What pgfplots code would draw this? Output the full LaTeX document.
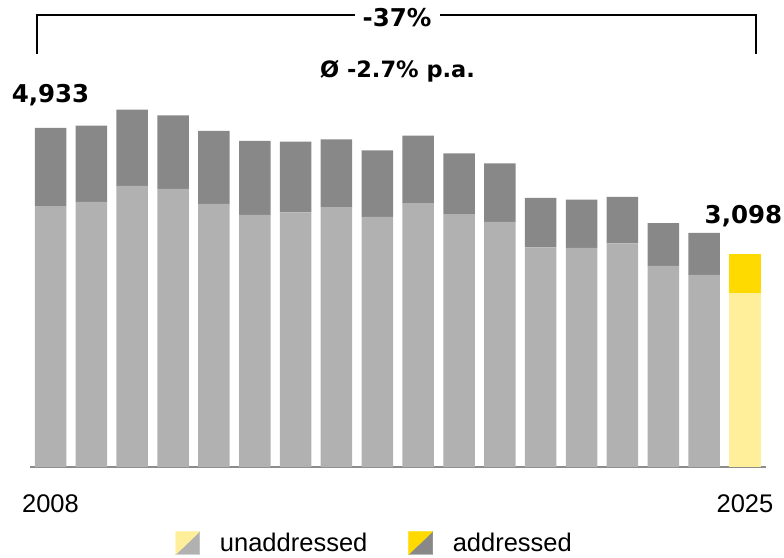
\documentclass[border=0pt]{standalone}
\usepackage{fontspec}
\setmainfont{Liberation Sans}
\newfontfamily\dv{DejaVu Sans}
\usepackage{pgfplots}
\pgfplotsset{compat=1.18}
\definecolor{glight}{HTML}{B1B1B1}
\definecolor{gdark}{HTML}{888888}
\definecolor{ylight}{HTML}{FFEF9A}
\definecolor{ydark}{HTML}{FFDA00}
\definecolor{axgray}{HTML}{8C8C8C}
\begin{document}
\begin{tikzpicture}[x=1pt,y=1pt]
\path[use as bounding box] (0,0) rectangle (784,557);
\begin{axis}[
  at={(30pt,90pt)}, anchor=south west,
  scale only axis, width=736pt, height=367pt,
  xmin=-0.502, xmax=17.515, ymin=0, ymax=5340,
  ybar stacked, bar width=31.5pt,
  axis x line=bottom, axis y line=none,
  x axis line style={draw=axgray, line width=2pt, -},
  xtick={0,17}, xticklabels={2008,2025},
  major tick length=0pt,
  xticklabel style={anchor=base, yshift=-45.7pt, font=\fontsize{25.5}{30}\selectfont},
  ytick=\empty,
  clip=false,
  legend columns=2,
  legend style={at={(0.467,-0.207)}, anchor=center, draw=none, fill=none,
    font=\fontsize{25.5}{30}\selectfont,
    /tikz/column sep=20pt,
    /tikz/every even column/.append style={column sep=41pt},
    nodes={inner sep=0pt}},
]
\addplot[fill=glight, draw=none, forget plot] coordinates {
(0,3788) (1,3856) (2,4089) (3,4045) (4,3827) (5,3667) (6,3706) (7,3783) (8,3638)
(9,3841) (10,3671) (11,3565) (12,3197) (13,3187) (14,3255) (15,2925) (16,2794) (17,0)};
\addplot[fill=ylight, draw=none, forget plot] coordinates {
(0,0) (1,0) (2,0) (3,0) (4,0) (5,0) (6,0) (7,0) (8,0)
(9,0) (10,0) (11,0) (12,0) (13,0) (14,0) (15,0) (16,0) (17,2532)};
\addplot[fill=gdark, draw=none, forget plot] coordinates {
(0,1145) (1,1110) (2,1110) (3,1072) (4,1062) (5,1077) (6,1028) (7,985) (8,970)
(9,980) (10,893) (11,854) (12,717) (13,703) (14,674) (15,625) (16,611) (17,0)};
\addplot[fill=ydark, draw=none, forget plot] coordinates {
(0,0) (1,0) (2,0) (3,0) (4,0) (5,0) (6,0) (7,0) (8,0)
(9,0) (10,0) (11,0) (12,0) (13,0) (14,0) (15,0) (16,0) (17,566)};
\addlegendimage{legend image code/.code={
  \fill[glight] (0pt,-11.5pt) -- (24pt,-11.5pt) -- (24pt,11.5pt) -- cycle;
  \fill[ylight] (0pt,-11.5pt) -- (0pt,11.5pt) -- (24pt,11.5pt) -- cycle;}}
\addlegendentry{unaddressed}
\addlegendimage{legend image code/.code={
  \fill[gdark] (0pt,-11.5pt) -- (24pt,-11.5pt) -- (24pt,11.5pt) -- cycle;
  \fill[ydark] (0pt,-11.5pt) -- (0pt,11.5pt) -- (24pt,11.5pt) -- cycle;}}
\addlegendentry{addressed}
\node[anchor=base, yshift=25pt, font=\dv\bfseries\fontsize{24.5}{28}\selectfont] at (axis cs:0,4933) {4,933};
\node[anchor=base, yshift=31pt, xshift=-1.5pt, font=\dv\bfseries\fontsize{24.5}{28}\selectfont] at (axis cs:17,3098) {3,098};
\end{axis}
\draw[line width=2pt] (37,503) -- (37,542) -- (355,542);
\draw[line width=2pt] (440,542) -- (756,542) -- (756,503);
\node[anchor=base, font=\dv\bfseries\fontsize{24.5}{28}\selectfont] at (397,530) {-37\%};
\node[anchor=base, font=\dv\bfseries\fontsize{22.5}{28}\selectfont] at (397.5,479.7) {Ø -2.7\% p.a.};
\end{tikzpicture}
\end{document}
